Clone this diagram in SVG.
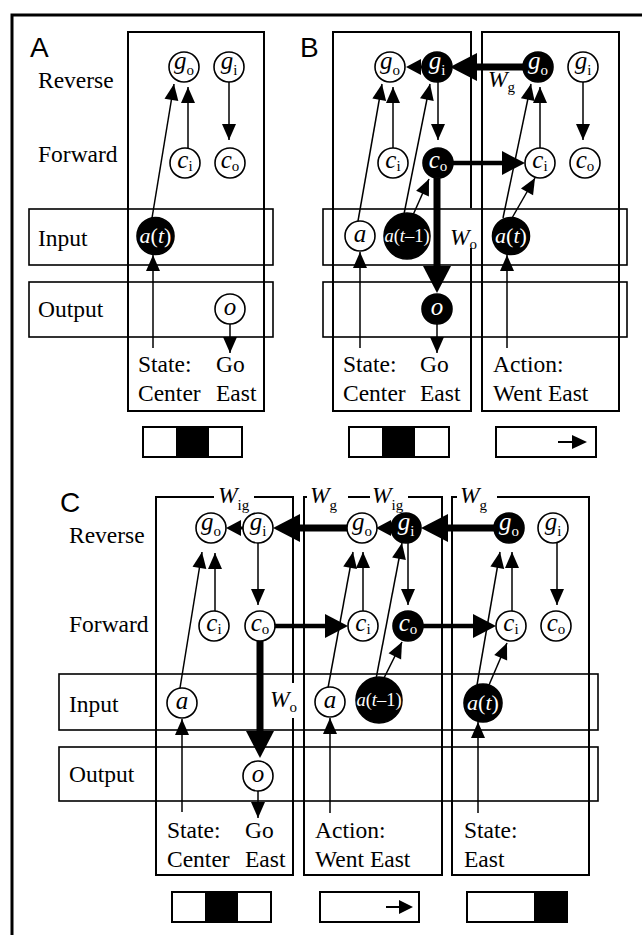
<svg xmlns="http://www.w3.org/2000/svg" width="642" height="935" viewBox="0 0 642 935">
<style>
  .frame{fill:none;stroke:#000;stroke-width:3}
  .col{fill:none;stroke:#000;stroke-width:2}
  .band{fill:none;stroke:#000;stroke-width:1.6}
  .nd{fill:#fff;stroke:#000;stroke-width:1.6}
  .on{fill:#000}
  .lbl{font-family:"Liberation Serif","Times New Roman",serif;font-size:23.5px;fill:#000}
  .panel{font-family:"Liberation Sans",Arial,sans-serif;font-size:28px;fill:#000}
  .nt{font-family:"Liberation Serif","Times New Roman",serif;font-size:25px;font-style:italic;text-anchor:middle;fill:#000}
  .wt{fill:#fff}
  .var{font-style:italic}
  .sub{font-size:15px;font-style:normal}
  .up{font-style:normal}
  .thin{fill:none;stroke:#000;stroke-width:1.5;marker-end:url(#ah-thin)}
  .small{fill:none;stroke:#000;stroke-width:3;marker-end:url(#ah-small)}
  .mid{fill:none;stroke:#000;stroke-width:4.6;marker-end:url(#ah-mid)}
  .thick{fill:none;stroke:#000;stroke-width:7;marker-end:url(#ah-thick)}
  .bar{fill:#fff;stroke:#000;stroke-width:2}
  .blk{fill:#000}
</style>
<defs>
  <marker id="ah-thin" markerUnits="userSpaceOnUse" markerWidth="16" markerHeight="14" refX="16" refY="7" orient="auto" overflow="visible"><path d="M0,0 L16,7 L0,14 Z"/></marker>
  <marker id="ah-small" markerUnits="userSpaceOnUse" markerWidth="15" markerHeight="16" refX="0" refY="8" orient="auto" overflow="visible"><path d="M0,0 L15,8 L0,16 Z"/></marker>
  <marker id="ah-mid" markerUnits="userSpaceOnUse" markerWidth="23" markerHeight="24" refX="0" refY="12" orient="auto" overflow="visible"><path d="M0,0 L23,12 L0,24 Z"/></marker>
  <marker id="ah-thick" markerUnits="userSpaceOnUse" markerWidth="27" markerHeight="28" refX="0" refY="14" orient="auto" overflow="visible"><path d="M0,0 L27,14 L0,28 Z"/></marker>
</defs>
<rect width="642" height="935" fill="#fff"/>
<path class="frame" d="M12,935 V15 H642"/>

<!-- ===== Panel A ===== -->
<g id="panelA-frame">
  <text class="panel" x="30" y="57">A</text>
  <rect class="col" x="128" y="32" width="136" height="379"/>
  <rect class="band" x="29" y="209" width="244" height="56"/>
  <rect class="band" x="29" y="282" width="244" height="55"/>
  <text class="lbl" x="38" y="88">Reverse</text>
  <text class="lbl" x="38" y="162">Forward</text>
  <text class="lbl" x="38" y="246">Input</text>
  <text class="lbl" x="38" y="317">Output</text>
  <text class="lbl" x="138" y="372">State:</text>
  <text class="lbl" x="216" y="372">Go</text>
  <text class="lbl" x="138" y="401">Center</text>
  <text class="lbl" x="216" y="401">East</text>
</g>
<g id="panelB-frame">
  <text class="panel" x="300" y="57">B</text>
  <path class="col" d="M471,208 V32 H333 V411 H471 V248"/>
  <rect class="col" x="482" y="32" width="137" height="379"/>
  <rect class="band" x="323" y="209" width="304" height="56"/>
  <rect class="band" x="323" y="282" width="304" height="55"/>
  <text class="lbl var" x="488" y="87">W<tspan class="sub" dy="5">g</tspan></text>
  <text class="lbl var" x="450" y="245">W<tspan class="sub" dy="4">o</tspan></text>
  <text class="lbl" x="343" y="372">State:</text>
  <text class="lbl" x="420" y="372">Go</text>
  <text class="lbl" x="343" y="401">Center</text>
  <text class="lbl" x="420" y="401">East</text>
  <text class="lbl" x="493" y="372">Action:</text>
  <text class="lbl" x="493" y="401">Went East</text>
</g>
<g id="panelC-frame">
  <text class="panel" x="60" y="512">C</text>
  <rect class="band" x="59" y="674" width="539" height="56"/>
  <rect class="band" x="59" y="747" width="539" height="54"/>
  <path class="col" d="M214,497 H156 V875 H293 V718 M293,683 V497 H254"/>
  <path class="col" d="M307,497 H304 V875 H442 V497 H408 M370,497 H348"/>
  <path class="col" d="M457,497 H452 V875 H589 V497 H497"/>
  <text class="lbl var" x="218" y="503">W<tspan class="sub" dy="7">ig</tspan></text>
  <text class="lbl var" x="310" y="503">W<tspan class="sub" dy="7">g</tspan></text>
  <text class="lbl var" x="372" y="503">W<tspan class="sub" dy="7">ig</tspan></text>
  <text class="lbl var" x="460" y="503">W<tspan class="sub" dy="7">g</tspan></text>
  <text class="lbl var" x="270" y="707">W<tspan class="sub" dy="5">o</tspan></text>
  <text class="lbl" x="69" y="543">Reverse</text>
  <text class="lbl" x="69" y="632">Forward</text>
  <text class="lbl" x="69" y="712">Input</text>
  <text class="lbl" x="69" y="782">Output</text>
  <text class="lbl" x="167" y="838">State:</text>
  <text class="lbl" x="245" y="838">Go</text>
  <text class="lbl" x="167" y="867">Center</text>
  <text class="lbl" x="245" y="867">East</text>
  <text class="lbl" x="315" y="838">Action:</text>
  <text class="lbl" x="315" y="867">Went East</text>
  <text class="lbl" x="464" y="838">State:</text>
  <text class="lbl" x="464" y="867">East</text>
</g>

<!-- connectors -->
<g id="connectors">
  <!-- A -->
  <path class="thin" d="M188,149 V87"/>
  <path class="thin" d="M152,218 L174,84"/>
  <path class="thin" d="M229,82 V140"/>
  <path class="thin" d="M153,348 V255"/>
  <path class="thin" d="M230,324 V353"/>
  <!-- B -->
  <path class="thick" d="M523,67 H477"/>
  <path class="small" d="M423,67 H421"/>
  <path class="thin" d="M393,148 V87"/>
  <path class="thin" d="M358,221 L382,84"/>
  <path class="thin" d="M404,214 L430,84"/>
  <path class="thin" d="M413,215 L429,179"/>
  <path class="thin" d="M438,82 V140"/>
  <path class="mid" d="M453,163 H502"/>
  <path class="thick" d="M437,178 V266"/>
  <path class="thin" d="M437,324 V353"/>
  <path class="thin" d="M360,348 V252"/>
  <path class="thin" d="M540,148 V87"/>
  <path class="thin" d="M503,218 L531,84"/>
  <path class="thin" d="M512,218 L535,178"/>
  <path class="thin" d="M583,82 V140"/>
  <path class="thin" d="M507,348 V255"/>
  <!-- C -->
  <path class="thick" d="M347,528 H300"/>
  <path class="small" d="M243,528 H241"/>
  <path class="small" d="M393,528 H391"/>
  <path class="thick" d="M494,528 H448"/>
  <path class="mid" d="M275,626 H325"/>
  <path class="mid" d="M423,626 H473"/>
  <path class="thick" d="M260,641 V731"/>
  <path class="thin" d="M215,611 V553"/>
  <path class="thin" d="M180,688 L202,552"/>
  <path class="thin" d="M258,543 V605"/>
  <path class="thin" d="M182,812 V719"/>
  <path class="thin" d="M258,791 V818"/>
  <path class="thin" d="M363,611 V552"/>
  <path class="thin" d="M328,688 L353,552"/>
  <path class="thin" d="M376,679 L402,543"/>
  <path class="thin" d="M383,680 L402,642"/>
  <path class="thin" d="M408,543 V605"/>
  <path class="thin" d="M330,813 V718"/>
  <path class="thin" d="M512,611 V552"/>
  <path class="thin" d="M477,685 L500,552"/>
  <path class="thin" d="M489,685 L507,643"/>
  <path class="thin" d="M557,543 V605"/>
  <path class="thin" d="M478,813 V722"/>
</g>

<!-- nodes: panel A -->
<g id="A-go"><circle class="nd" cx="184" cy="67" r="15"/><text class="nt" x="184" y="69">g<tspan class="sub" dy="6">o</tspan></text></g>
<g id="A-gi"><circle class="nd" cx="229" cy="67" r="15"/><text class="nt" x="229" y="69">g<tspan class="sub" dy="6">i</tspan></text></g>
<g id="A-ci"><circle class="nd" cx="185" cy="163" r="15"/><text class="nt" x="185" y="168">c<tspan class="sub" dy="3">i</tspan></text></g>
<g id="A-co"><circle class="nd" cx="230" cy="163" r="15"/><text class="nt" x="230" y="168">c<tspan class="sub" dy="3">o</tspan></text></g>
<g id="A-at"><circle class="nd on" cx="155.5" cy="236" r="18.5"/><text class="nt wt" x="155.5" y="243" style="font-size:22px">a<tspan class="up">(</tspan>t<tspan class="up">)</tspan></text></g>
<g id="A-o"><circle class="nd" cx="230" cy="309" r="15"/><text class="nt" x="230" y="315">o</text></g>

<!-- nodes: panel B, first column -->
<g id="B1-go"><circle class="nd" cx="390" cy="67" r="15"/><text class="nt" x="390" y="69">g<tspan class="sub" dy="6">o</tspan></text></g>
<g id="B1-gi"><circle class="nd on" cx="437" cy="67" r="15"/><text class="nt wt" x="437" y="69">g<tspan class="sub" dy="6">i</tspan></text></g>
<g id="B1-ci"><circle class="nd" cx="393" cy="163" r="15"/><text class="nt" x="393" y="168">c<tspan class="sub" dy="3">i</tspan></text></g>
<g id="B1-co"><circle class="nd on" cx="438" cy="163" r="15"/><text class="nt wt" x="438" y="168">c<tspan class="sub" dy="3">o</tspan></text></g>
<g id="B1-a"><circle class="nd" cx="360" cy="236" r="15"/><text class="nt" x="360" y="242">a</text></g>
<g id="B1-at1"><circle class="nd on" cx="407" cy="236" r="23"/><text class="nt wt" x="407" y="242" style="font-size:18.5px">a<tspan class="up">(</tspan>t<tspan class="up">–1)</tspan></text></g>
<g id="B1-o"><circle class="nd on" cx="437" cy="309" r="15"/><text class="nt wt" x="437" y="315">o</text></g>
<!-- nodes: panel B, second column -->
<g id="B2-go"><circle class="nd on" cx="538" cy="67" r="15"/><text class="nt wt" x="538" y="69">g<tspan class="sub" dy="6">o</tspan></text></g>
<g id="B2-gi"><circle class="nd" cx="583" cy="67" r="15"/><text class="nt" x="583" y="69">g<tspan class="sub" dy="6">i</tspan></text></g>
<g id="B2-ci"><circle class="nd" cx="540" cy="163" r="15"/><text class="nt" x="540" y="168">c<tspan class="sub" dy="3">i</tspan></text></g>
<g id="B2-co"><circle class="nd" cx="585" cy="163" r="15"/><text class="nt" x="585" y="168">c<tspan class="sub" dy="3">o</tspan></text></g>
<g id="B2-at"><circle class="nd on" cx="511" cy="236" r="18.5"/><text class="nt wt" x="511" y="243" style="font-size:22px">a<tspan class="up">(</tspan>t<tspan class="up">)</tspan></text></g>

<!-- nodes: panel C, first column -->
<g id="C1-go"><circle class="nd" cx="211" cy="528" r="15"/><text class="nt" x="211" y="530">g<tspan class="sub" dy="6">o</tspan></text></g>
<g id="C1-gi"><circle class="nd" cx="258" cy="528" r="15"/><text class="nt" x="258" y="530">g<tspan class="sub" dy="6">i</tspan></text></g>
<g id="C1-ci"><circle class="nd" cx="214" cy="626" r="15"/><text class="nt" x="214" y="631">c<tspan class="sub" dy="3">i</tspan></text></g>
<g id="C1-co"><circle class="nd" cx="260" cy="626" r="15"/><text class="nt" x="260" y="631">c<tspan class="sub" dy="3">o</tspan></text></g>
<g id="C1-a"><circle class="nd" cx="182" cy="703" r="15"/><text class="nt" x="182" y="709">a</text></g>
<g id="C1-o"><circle class="nd" cx="258" cy="776" r="15"/><text class="nt" x="258" y="782">o</text></g>
<!-- nodes: panel C, second column -->
<g id="C2-go"><circle class="nd" cx="362" cy="528" r="15"/><text class="nt" x="362" y="530">g<tspan class="sub" dy="6">o</tspan></text></g>
<g id="C2-gi"><circle class="nd on" cx="406" cy="528" r="15"/><text class="nt wt" x="406" y="530">g<tspan class="sub" dy="6">i</tspan></text></g>
<g id="C2-ci"><circle class="nd" cx="363" cy="626" r="15"/><text class="nt" x="363" y="631">c<tspan class="sub" dy="3">i</tspan></text></g>
<g id="C2-co"><circle class="nd on" cx="408" cy="626" r="15"/><text class="nt wt" x="408" y="631">c<tspan class="sub" dy="3">o</tspan></text></g>
<g id="C2-a"><circle class="nd" cx="330" cy="702" r="15"/><text class="nt" x="330" y="708">a</text></g>
<g id="C2-at1"><circle class="nd on" cx="379" cy="700" r="23"/><text class="nt wt" x="379" y="706" style="font-size:18.5px">a<tspan class="up">(</tspan>t<tspan class="up">–1)</tspan></text></g>
<!-- nodes: panel C, third column -->
<g id="C3-go"><circle class="nd on" cx="509" cy="528" r="15"/><text class="nt wt" x="509" y="530">g<tspan class="sub" dy="6">o</tspan></text></g>
<g id="C3-gi"><circle class="nd" cx="553" cy="528" r="15"/><text class="nt" x="553" y="530">g<tspan class="sub" dy="6">i</tspan></text></g>
<g id="C3-ci"><circle class="nd" cx="511" cy="626" r="15"/><text class="nt" x="511" y="631">c<tspan class="sub" dy="3">i</tspan></text></g>
<g id="C3-co"><circle class="nd" cx="556" cy="626" r="15"/><text class="nt" x="556" y="631">c<tspan class="sub" dy="3">o</tspan></text></g>
<g id="C3-at"><circle class="nd on" cx="483" cy="703" r="19"/><text class="nt wt" x="483" y="710" style="font-size:22px">a<tspan class="up">(</tspan>t<tspan class="up">)</tspan></text></g>

<!-- state / action glyph bars -->
<g id="bars">
  <rect class="bar" x="143" y="427" width="99" height="30"/><rect class="blk" x="176" y="427" width="33" height="30"/>
  <rect class="bar" x="349" y="427" width="100" height="30"/><rect class="blk" x="382" y="427" width="33" height="30"/>
  <rect class="bar" x="496" y="427" width="100" height="30"/>
  <path d="M558,442 H572" stroke="#000" stroke-width="2"/><path d="M572,435 L587,442 L572,449 Z"/>
  <rect class="bar" x="172" y="892" width="99" height="30"/><rect class="blk" x="205" y="892" width="33" height="30"/>
  <rect class="bar" x="320" y="892" width="99" height="30"/>
  <path d="M386,907 H399" stroke="#000" stroke-width="2"/><path d="M399,900 L413,907 L399,914 Z"/>
  <rect class="bar" x="467" y="892" width="100" height="30"/><rect class="blk" x="534" y="892" width="33" height="30"/>
</g>
</svg>
